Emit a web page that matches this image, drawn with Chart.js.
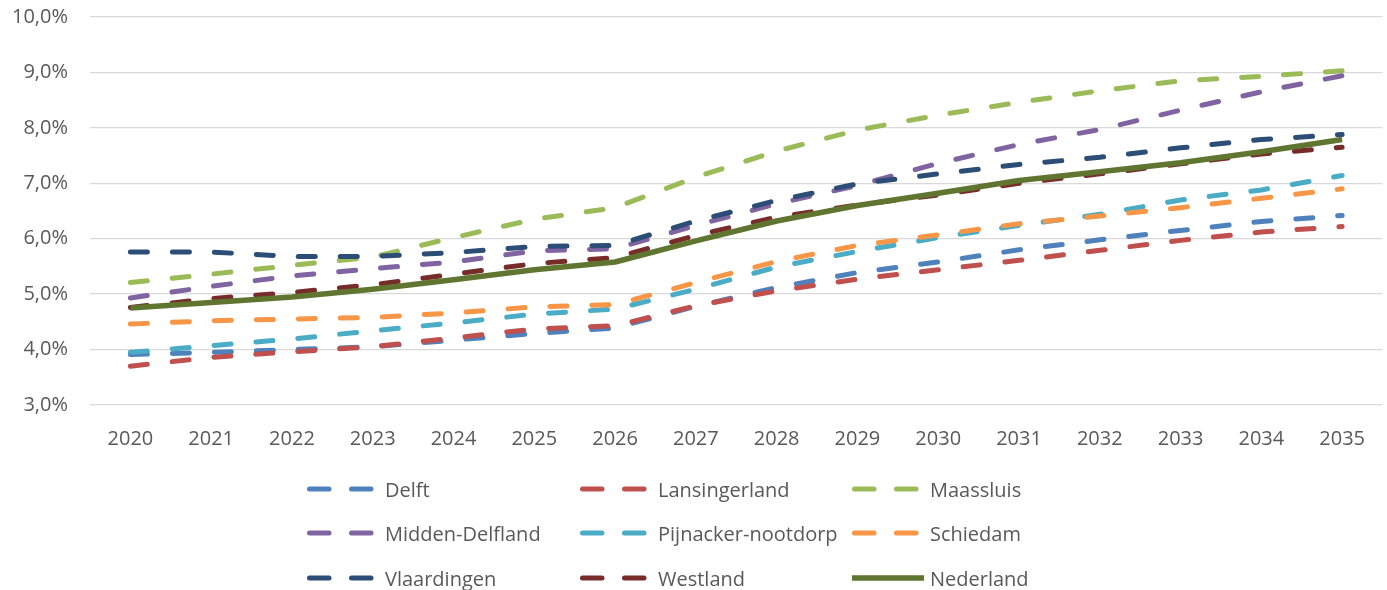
<!DOCTYPE html>
<html>
<head>
<meta charset="utf-8">
<script src="https://cdn.jsdelivr.net/npm/chart.js@4"></script>
<style>
  html, body { margin: 0; padding: 0; background: #fff; }
  #wrap { position: relative; width: 1387px; height: 590px; overflow: hidden; }
  #chartBox { position: absolute; left: 0; top: 0; width: 1387px; height: 483px; }
  #legend { position: absolute; left: 0; top: 0; width: 1387px; height: 590px; pointer-events: none; }
  .item { position: absolute; height: 30px; display: flex; align-items: center; font-family: "Open Sans", sans-serif; font-size: 20px; color: #595959; white-space: nowrap; }
  .item svg { display: block; margin-right: 6px; }
</style>
</head>
<body>
<div id="wrap">
  <div id="chartBox"><canvas id="c"></canvas></div>
  <div id="legend"></div>
</div>
<script>
const years = ["2020","2021","2022","2023","2024","2025","2026","2027","2028","2029","2030","2031","2032","2033","2034","2035"];

const delft          = [3.91, 3.95, 4.00, 4.05, 4.17, 4.29, 4.39, 4.78, 5.12, 5.39, 5.58, 5.80, 5.98, 6.15, 6.31, 6.42];
const lansingerland  = [3.70, 3.86, 3.96, 4.05, 4.21, 4.37, 4.43, 4.79, 5.06, 5.27, 5.44, 5.61, 5.79, 5.97, 6.12, 6.22];
const maassluis      = [5.21, 5.36, 5.52, 5.67, 6.02, 6.35, 6.56, 7.11, 7.58, 7.96, 8.23, 8.46, 8.67, 8.85, 8.93, 9.03];
const middenDelfland = [4.93, 5.14, 5.33, 5.46, 5.58, 5.78, 5.82, 6.24, 6.63, 6.96, 7.36, 7.70, 7.97, 8.32, 8.65, 8.94];
const pijnacker      = [3.95, 4.07, 4.19, 4.34, 4.48, 4.64, 4.73, 5.09, 5.49, 5.77, 6.02, 6.24, 6.44, 6.70, 6.88, 7.14];
const schiedam       = [4.46, 4.52, 4.55, 4.58, 4.66, 4.77, 4.81, 5.21, 5.59, 5.88, 6.07, 6.27, 6.41, 6.56, 6.73, 6.90];
const vlaardingen    = [5.76, 5.76, 5.68, 5.68, 5.75, 5.86, 5.88, 6.32, 6.69, 6.99, 7.17, 7.34, 7.47, 7.64, 7.79, 7.88];
const westland       = [4.76, 4.92, 5.03, 5.17, 5.36, 5.55, 5.66, 6.06, 6.39, 6.61, 6.79, 7.00, 7.17, 7.35, 7.53, 7.65];
const nederland      = [4.75, 4.85, 4.95, 5.09, 5.26, 5.44, 5.58, 5.96, 6.32, 6.60, 6.82, 7.05, 7.21, 7.37, 7.57, 7.79];

const seriesNames  = ["Delft","Lansingerland","Maassluis","Midden-Delfland","Pijnacker-nootdorp","Schiedam","Vlaardingen","Westland","Nederland"];
const seriesValues = [delft, lansingerland, maassluis, middenDelfland, pijnacker, schiedam, vlaardingen, westland, nederland];
const seriesColors = ["#4F81BD","#C0504D","#9BBB59","#8064A2","#4BACC6","#F79646","#2C4D75","#772C2A","#5F7530"];
const seriesDashed = [true,true,true,true,true,true,true,true,false];

const yTicks = [3,4,5,6,7,8,9,10];

const FONT = "'Open Sans', sans-serif";
const TXT = "#595959";

const datasets = seriesNames.map((name, i) => ({
  label: name,
  data: seriesValues[i],
  borderColor: seriesColors[i],
  backgroundColor: seriesColors[i],
  borderWidth: seriesDashed[i] ? 5 : 5.5,
  borderDash: seriesDashed[i] ? [17, 25] : [],
  borderCapStyle: seriesDashed[i] ? 'round' : 'butt',
  borderJoinStyle: 'round',
  pointRadius: 0,
  tension: 0,
  fill: false,
  order: seriesNames.length - i
}));

new Chart(document.getElementById('c'), {
  type: 'line',
  data: { labels: years, datasets },
  options: {
    responsive: true,
    maintainAspectRatio: false,
    animation: false,
    layout: { padding: { top: 17, right: 0, bottom: 10, left: 0 } },
    plugins: { legend: { display: false }, tooltip: { enabled: false } },
    scales: {
      x: {
        offset: true,
        grid: { display: false, drawTicks: false },
        border: { display: false },
        ticks: { color: TXT, font: { family: FONT, size: 20 }, padding: 22, maxRotation: 0, autoSkip: false }
      },
      y: {
        min: 3, max: 10,
        afterFit: (s) => { s.width = 90; s.paddingTop = 0; s.paddingBottom = 0; },
        afterBuildTicks: (s) => { s.ticks = yTicks.map(v => ({ value: v })); },
        grid: { color: "#D9D9D9", lineWidth: 1.3, drawTicks: false },
        border: { display: false },
        ticks: {
          color: TXT, font: { family: FONT, size: 20 }, padding: 22,
          callback: (v) => v.toFixed(1).replace('.', ',') + '%'
        }
      }
    }
  }
});

// HTML legend (3 columns x 3 rows)
const legend = document.getElementById('legend');
const colX = [307, 580, 852];
const rowY = [489, 533, 578];
seriesNames.forEach((name, i) => {
  const col = i % 3, row = Math.floor(i / 3);
  const div = document.createElement('div');
  div.className = 'item';
  div.style.left = colX[col] + 'px';
  div.style.top = (rowY[row] - 15) + 'px';
  const w = 67;
  const line = seriesDashed[i]
    ? `<line x1="2.5" y1="15" x2="${w - 2.5}" y2="15" stroke="${seriesColors[i]}" stroke-width="5" stroke-linecap="round" stroke-dasharray="19.5 22.5"/>`
    : `<line x1="0" y1="15" x2="${w + 5}" y2="15" stroke="${seriesColors[i]}" stroke-width="5.5"/>`;
  div.innerHTML = `<svg width="${w + 5}" height="30">${line}</svg><span>${name}</span>`;
  legend.appendChild(div);
});
</script>
</body>
</html>
